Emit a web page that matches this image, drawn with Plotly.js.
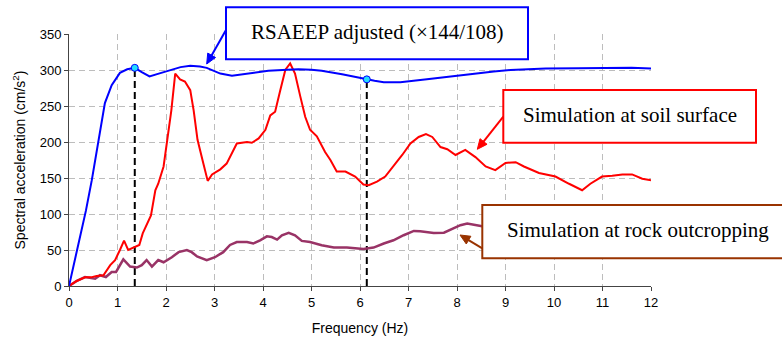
<!DOCTYPE html>
<html>
<head>
<meta charset="utf-8">
<script src="https://cdn.plot.ly/plotly-3.0.1.min.js"></script>
<style>html,body{margin:0;padding:0;background:#fff;}#chart{width:782px;height:338px;}</style>
</head>
<body>
<div id="chart"></div>
<script>
// RSAEEP adjusted (x144/108)
const rsaeepFreq = [0, 0.1, 0.23, 0.35, 0.47, 0.56, 0.64, 0.74, 0.88, 1.05, 1.2, 1.356, 1.5, 1.66, 1.85, 2.08, 2.3, 2.5, 2.7, 2.84, 3.0, 3.12, 3.36, 3.7, 4.11, 4.5, 4.73, 5.0, 5.21, 5.63, 5.9, 6.14, 6.3, 6.49, 6.83, 7.38, 8.07, 8.76, 9.1, 9.83, 10.5, 11.06, 11.6, 12.0];
const rsaeepVal  = [0, 30, 68, 105, 147, 184, 216, 254, 279, 296, 301, 303, 297, 291, 295, 300, 304, 306, 305, 303, 299, 295, 292, 295, 299, 300.5, 301, 300.5, 299, 294, 290, 287, 285, 283, 283, 287, 293, 298, 300, 302, 302.5, 303, 303, 302];

// Simulation at soil surface
const soilFreq = [0, 0.16, 0.33, 0.45, 0.57, 0.71, 0.85, 0.95, 1.05, 1.135, 1.22, 1.33, 1.45, 1.52, 1.62, 1.69, 1.78, 1.84, 1.95, 2.02, 2.11, 2.19, 2.29, 2.39, 2.5, 2.57, 2.65, 2.77, 2.86, 2.95, 3.12, 3.25, 3.46, 3.67, 3.77, 3.91, 4.05, 4.15, 4.25, 4.35, 4.46, 4.56, 4.66, 4.77, 4.87, 4.97, 5.11, 5.28, 5.39, 5.52, 5.70, 5.90, 6.07, 6.18, 6.35, 6.52, 6.69, 6.87, 7.04, 7.21, 7.36, 7.49, 7.66, 7.80, 7.97, 8.17, 8.38, 8.59, 8.79, 9.0, 9.21, 9.38, 9.69, 10.03, 10.31, 10.58, 10.75, 10.99, 11.20, 11.41, 11.61, 11.82, 12.0];
const soilVal  = [0, 7, 12, 12, 14, 15, 29, 36, 50, 63, 50, 53, 57, 73, 87, 98, 133, 142, 166, 203, 244, 295, 287, 284, 272, 244, 203, 170, 146, 155, 162, 170, 198, 200, 199, 205, 217, 237, 242, 270, 300, 309, 295, 263, 235, 217, 208, 186, 175, 159, 159, 152, 141, 140, 145, 152, 166, 182, 198, 207, 211, 207, 193, 190, 182, 189, 179, 166, 161, 171, 172, 166, 157, 152, 142, 133, 142, 152, 153, 155, 155, 149, 147];

// Simulation at rock outcropping
const rockFreq = [0, 0.16, 0.33, 0.43, 0.54, 0.64, 0.76, 0.88, 0.97, 1.12, 1.26, 1.40, 1.50, 1.60, 1.71, 1.84, 1.95, 2.12, 2.26, 2.43, 2.53, 2.64, 2.84, 3.01, 3.18, 3.32, 3.46, 3.67, 3.80, 3.94, 4.08, 4.18, 4.29, 4.39, 4.53, 4.66, 4.80, 4.97, 5.21, 5.46, 5.73, 6.07, 6.28, 6.49, 6.69, 6.90, 7.11, 7.24, 7.52, 7.73, 7.93, 8.07, 8.21, 8.38, 8.52];
const rockVal  = [0, 7, 12.5, 11.6, 10, 15, 12.5, 19.5, 19.5, 37, 27, 25.6, 29, 36, 27, 36, 33, 40, 47, 50, 47, 41, 36, 40, 47, 57, 61, 61, 59, 63.5, 69, 68, 64.5, 70.5, 74, 70.5, 62.6, 61, 56.6, 53.4, 53.4, 51.5, 53.4, 59, 63.5, 70.5, 76.5, 76, 73.7, 74, 79.8, 84.4, 86.8, 84.4, 83];

// Marked frequencies on the RSAEEP curve
const markFreq = [1.356, 6.14];
const markVal  = [303, 287];

// Axis ticks
const xTicks = [0,1,2,3,4,5,6,7,8,9,10,11,12];
const yTicks = [0,50,100,150,200,250,300,350];

// Annotation texts
const labelRsaeep = 'RSAEEP adjusted (\u00d7144/108)';
const labelSoil = 'Simulation at soil surface';
const labelRock = 'Simulation at rock outcropping';

const traces = [];
markFreq.forEach((f, i) => {
  traces.push({x: [f, f], y: [0, markVal[i]], mode: 'lines', line: {color: '#000', width: 2, dash: '7px,4px'}, hoverinfo: 'skip', showlegend: false});
});
traces.push({x: rockFreq, y: rockVal, mode: 'lines', line: {color: '#993366', width: 2.5}, showlegend: false});
traces.push({x: soilFreq, y: soilVal, mode: 'lines', line: {color: '#ff0000', width: 2}, showlegend: false});
traces.push({x: rsaeepFreq, y: rsaeepVal, mode: 'lines', line: {color: '#0000ff', width: 2}, showlegend: false});
traces.push({x: markFreq, y: markVal, mode: 'markers', marker: {color: '#22ddff', size: 7, line: {color: '#0000ff', width: 1}}, showlegend: false});

const serif = 'Liberation Serif, Times New Roman, serif';
const W = 582, H = 252, L = 69, T = 34;
const px = v => (v - L) / W;
const py = v => (T + H - v) / H;

// callout arrows: [tailX, tailY, tipX, tipY] in page pixels, colour
function arrowShapes(tx, ty, hx, hy, color) {
  const dx = hx - tx, dy = hy - ty, len = Math.hypot(dx, dy);
  const ux = dx / len, uy = dy / len, nx = -uy, ny = ux;
  const hl = 10, hw = 4.5;
  const bx = hx - ux * hl, by = hy - uy * hl;
  return [
    {type: 'line', xref: 'paper', yref: 'paper', x0: px(tx), y0: py(ty), x1: px(bx + ux), y1: py(by + uy), line: {color: color, width: 2}, layer: 'above'},
    {type: 'path', xref: 'paper', yref: 'paper',
     path: `M ${px(hx)} ${py(hy)} L ${px(bx + nx * hw)} ${py(by + ny * hw)} L ${px(bx - nx * hw)} ${py(by - ny * hw)} Z`,
     fillcolor: color, line: {color: color, width: 1}, layer: 'above'}
  ];
}

const shapes = [
  {type: 'rect', xref: 'paper', yref: 'paper', x0: px(226), x1: px(528), y0: py(59.3), y1: py(7.3), line: {color: '#0000ff', width: 2}, fillcolor: '#fff', layer: 'above'},
  {type: 'rect', xref: 'paper', yref: 'paper', x0: px(503.3), x1: px(756), y0: py(142.7), y1: py(90), line: {color: '#ff0000', width: 2}, fillcolor: '#fff', layer: 'above'},
  {type: 'rect', xref: 'paper', yref: 'paper', x0: px(482.3), x1: px(790), y0: py(258.3), y1: py(205), line: {color: '#993300', width: 2}, fillcolor: '#fff', layer: 'above'}
].concat(
  arrowShapes(226, 30, 206.7, 64, '#0000ff'),
  arrowShapes(503.3, 116.7, 477.3, 149.3, '#ff0000'),
  arrowShapes(482.3, 248.3, 460, 235, '#993300')
);

const layout = {
  width: 782, height: 338,
  margin: {l: L, r: 782 - L - W, t: T, b: 338 - T - H},
  paper_bgcolor: '#fff', plot_bgcolor: '#fff',
  font: {family: 'Liberation Sans, Arial, sans-serif', size: 13, color: '#000'},
  xaxis: {
    range: [0, 12], tickvals: xTicks, ticktext: xTicks.map(String),
    ticks: 'outside', ticklen: 4, tickcolor: '#444', showline: true, linecolor: '#444', linewidth: 1,
    showgrid: true, gridcolor: '#bdbdbd', griddash: '6px,4px', zeroline: false,
    title: {text: 'Frequency (Hz)', font: {size: 14}, standoff: 14}
  },
  yaxis: {
    range: [0, 350], tickvals: yTicks, ticktext: yTicks.map(String),
    ticks: 'outside', ticklen: 4, tickcolor: '#444', showline: true, linecolor: '#444', linewidth: 1,
    showgrid: true, gridcolor: '#bdbdbd', griddash: '6px,4px', zeroline: false,
    title: {text: 'Spectral acceleration (cm/s<sup>2</sup>)', font: {size: 14}, standoff: 10}
  },
  shapes: shapes,
  annotations: [
    {xref: 'paper', yref: 'paper', x: px(377), y: py(32), text: labelRsaeep, showarrow: false, font: {family: serif, size: 21, color: '#000'}, xanchor: 'center', yanchor: 'middle'},
    {xref: 'paper', yref: 'paper', x: px(629.5), y: py(115), text: labelSoil, showarrow: false, font: {family: serif, size: 21, color: '#000'}, xanchor: 'center', yanchor: 'middle'},
    {xref: 'paper', yref: 'paper', x: px(638), y: py(230), text: labelRock, showarrow: false, font: {family: serif, size: 21, color: '#000'}, xanchor: 'center', yanchor: 'middle'}
  ]
};

Plotly.newPlot('chart', traces, layout, {displayModeBar: false, staticPlot: true});
</script>
</body>
</html>
